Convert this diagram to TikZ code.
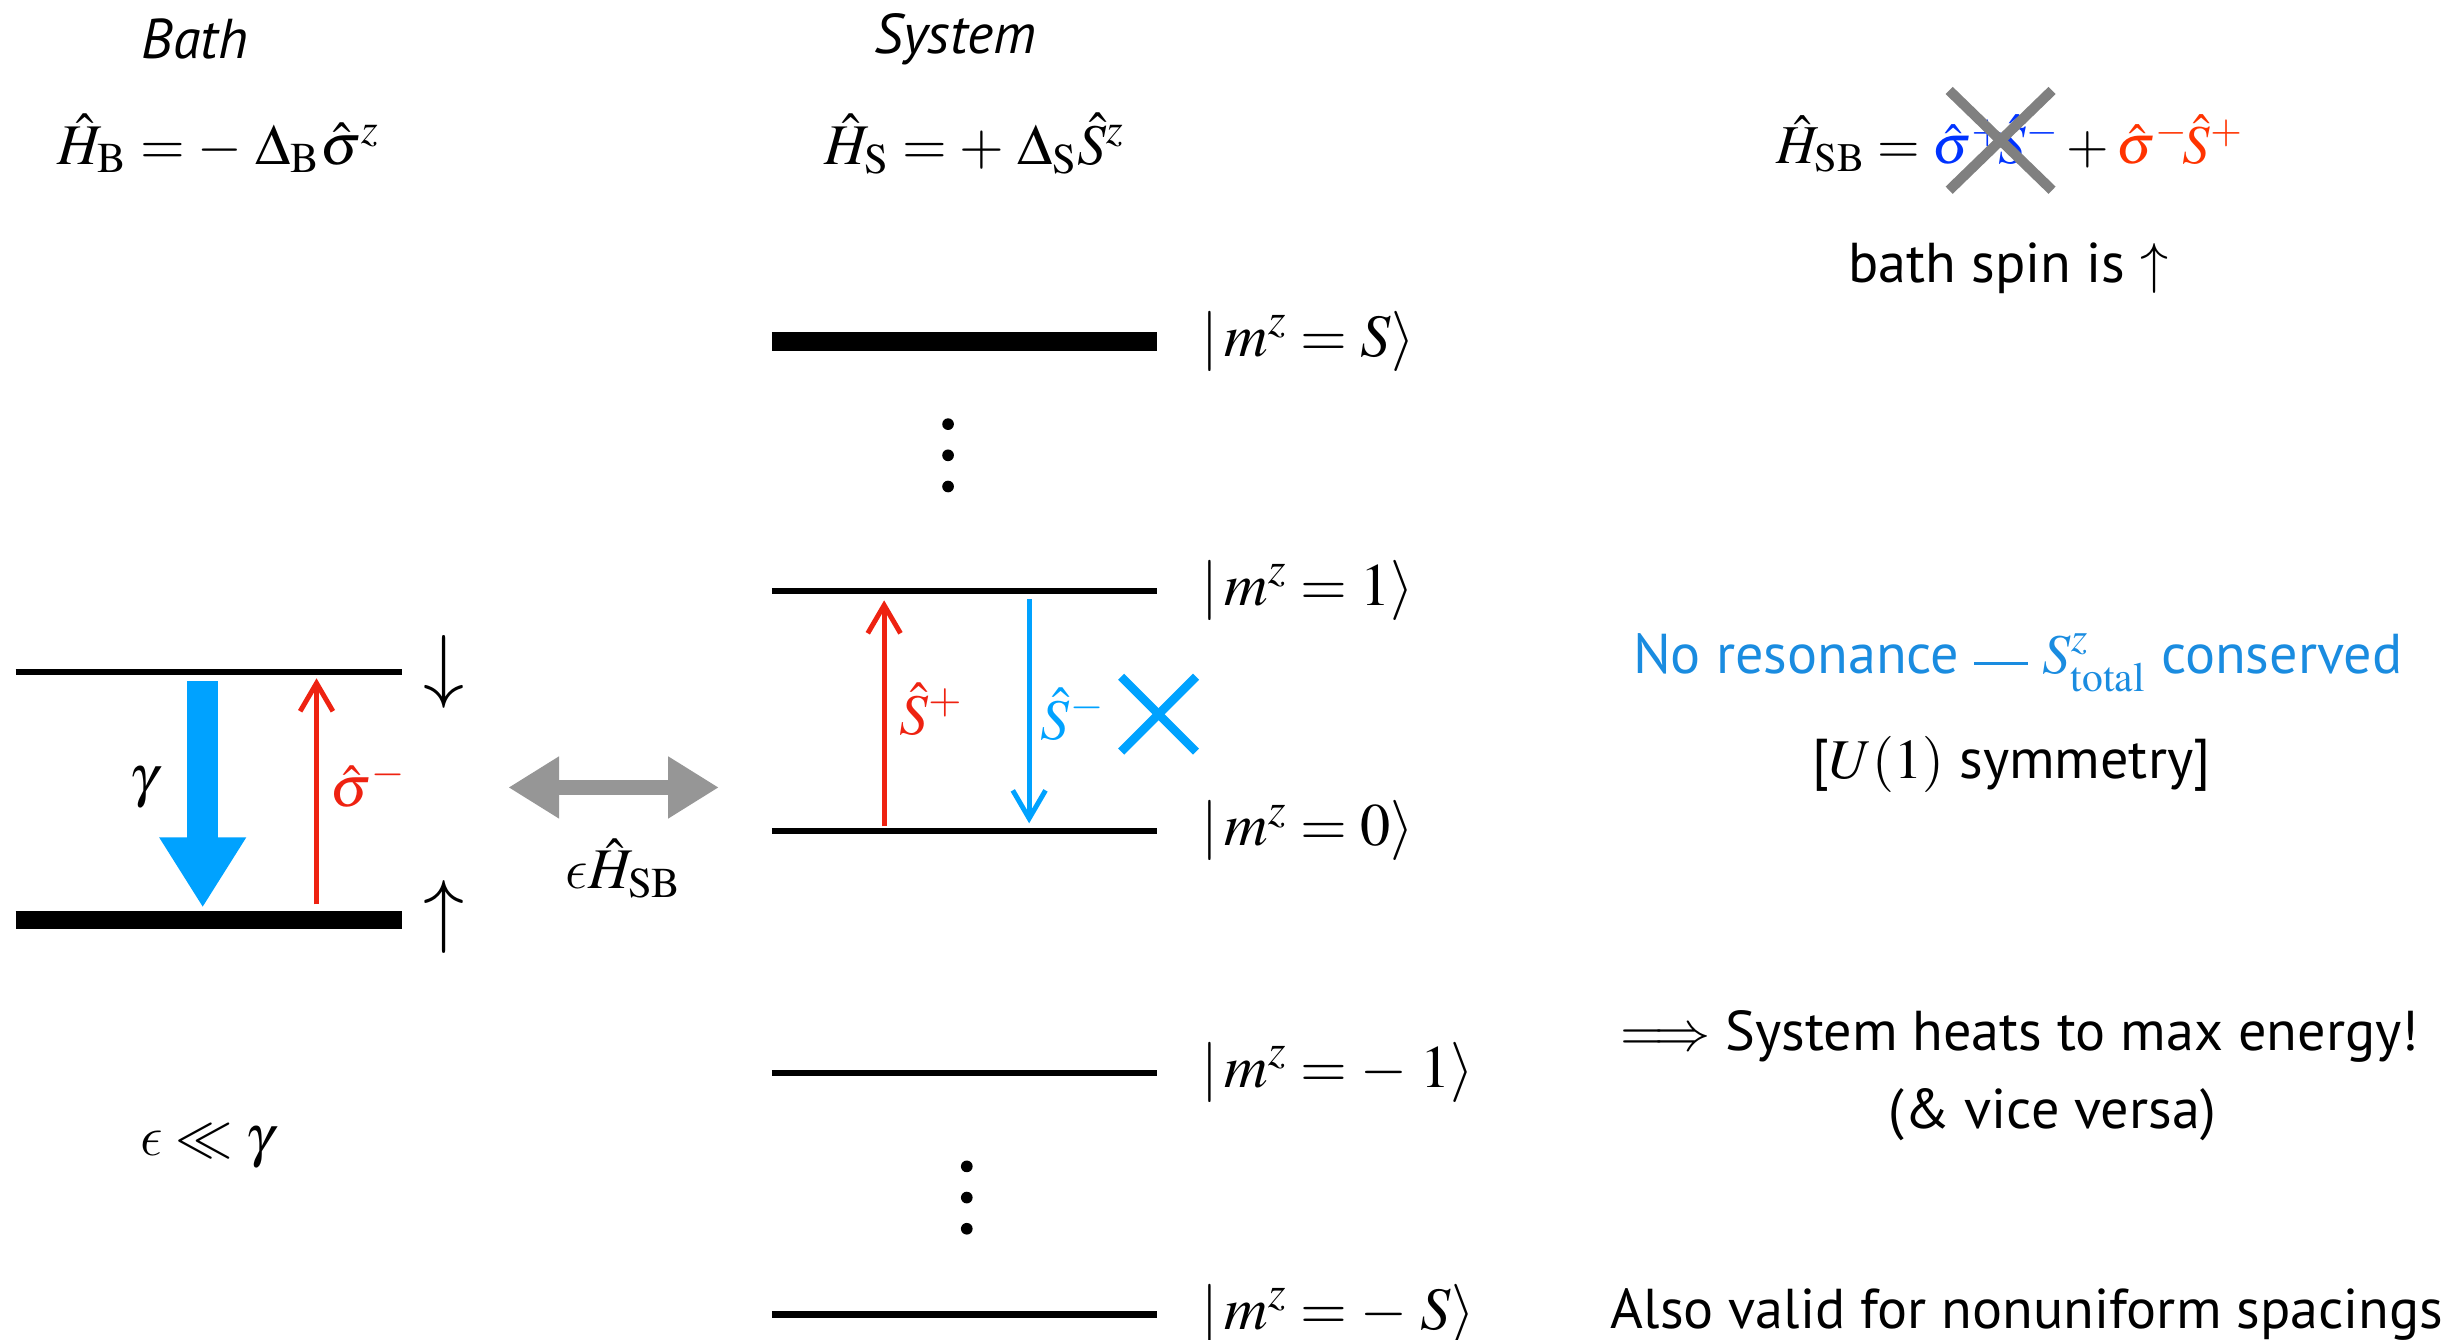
\documentclass[tikz,border=0pt]{standalone}
\usepackage{mathptmx}
\usepackage[no-math]{fontspec}
\setmainfont{PT Sans}
\usetikzlibrary{arrows.meta}

\DeclareSymbolFont{cmletters}{OML}{cmm}{m}{it}
\DeclareMathSymbol{\lunateps}{\mathord}{cmletters}{"0F}
\newcommand{\longdash}{\rule[0.3ex]{0.95em}{1.4pt}}

\definecolor{sred}{RGB}{238,34,17}
\definecolor{sblue}{RGB}{0,162,255}
\definecolor{tblue}{RGB}{26,140,224}
\definecolor{hblue}{RGB}{0,51,255}
\definecolor{hred}{RGB}{255,51,0}
\definecolor{cgrey}{RGB}{128,128,128}
\definecolor{agrey}{RGB}{150,150,150}

\begin{document}
\begin{tikzpicture}[
    x=0.02cm, y=-0.02cm,
    font=\fontsize{20.5}{24}\selectfont,
    level/.style={draw=black, line width=2.4pt},
    thicklevel/.style={draw=black, line width=6.8pt},
    ket/.style={anchor=west, inner sep=0pt, font=\fontsize{22}{26}\selectfont},
    eqn/.style={inner sep=0pt, font=\fontsize{21}{25}\selectfont},
    upflow/.style={draw=sred, line width=1.8pt, -{Straight Barb[length=0.36cm, width=0.42cm]}},
    downflow/.style={draw=sblue, line width=1.8pt, -{Straight Barb[length=0.36cm, width=0.42cm]}},
    decay/.style={draw=sblue, line width=0.4cm, -{Triangle[length=0.9cm, width=1.05cm]}},
    coupling/.style={draw=agrey, line width=0.2cm, {Triangle[length=0.65cm, width=0.75cm]}-{Triangle[length=0.65cm, width=0.75cm]}},
    cross/.style={line width=0.13cm},
    dot/.style={circle, fill=black, inner sep=0pt, minimum size=0.15cm}
]
\useasboundingbox (0,0) rectangle (1568,859);

% headers
\node (bath) at (125,25) {\textit{Bath}};
\node (sys) at (613,25) {\textit{System}};
\node[eqn] (hb) at (140,92) {$\hat H_{\mathrm{B}} = -\;\Delta_{\mathrm{B}}\hat\sigma^z$};
\node[eqn] (hs) at (625,92) {$\hat H_{\mathrm{S}} = +\;\Delta_{\mathrm{S}}\hat S^z$};
\node[eqn, font=\fontsize{20}{24}\selectfont] (hsb) at (1289,92) {$\hat H_{\mathrm{SB}} = \textcolor{hblue}{\hat\sigma^+\!\hat S^-} + \textcolor{hred}{\hat\sigma^-\!\hat S^+}$};
\draw[cross, cgrey] (1250,58) -- (1316,122);
\draw[cross, cgrey] (1316,58) -- (1250,122);
\node (spin) at (1288,172) {bath spin is $\uparrow$};

% bath levels
\coordinate (bup) at (10,431);
\coordinate (bdn) at (10,590);
\draw[level] (bup) -- ++(248,0);
\draw[thicklevel] (bdn) -- ++(248,0);
\node[eqn, font=\fontsize{30}{30}\selectfont] (dnspin) at (285,431) {$\downarrow$};
\node[eqn, font=\fontsize{30}{30}\selectfont] (upspin) at (285,588) {$\uparrow$};

\coordinate (g0) at (130,437);
\coordinate (g1) at (130,582);
\draw[decay] (g0) -- (g1);
\node[eqn] (gamma) at (92,505) {$\gamma$};
\coordinate (r0) at (203,580);
\coordinate (r1) at (203,435);
\draw[upflow] (r0) -- (r1);
\node[eqn, text=sred] (sigm) at (236,503) {$\hat\sigma^-$};

\coordinate (c0) at (326,505);
\coordinate (c1) at (461,505);
\draw[coupling] (c0) -- (c1);
\node[eqn] (eps) at (400,557) {$\lunateps\hat H_{\mathrm{SB}}$};
\node[eqn] (ll) at (133,735) {$\lunateps \ll \gamma$};

% system levels
\coordinate (lvS) at (495,219);
\coordinate (lv1) at (495,379);
\coordinate (lv0) at (495,533);
\coordinate (lvm) at (495,688);
\coordinate (lvmS) at (495,843);
\draw[thicklevel] (lvS) -- ++(247,0);
\foreach \lv in {lv1,lv0,lvm,lvmS}
  \draw[level] (\lv) -- ++(247,0);

\node[ket] (kS) at (770,219) {$|\,m^z = S\rangle$};
\node[ket] (k1) at (770,379) {$|\,m^z = 1\rangle$};
\node[ket] (k0) at (770,533) {$|\,m^z = 0\rangle$};
\node[ket] (km) at (770,688) {$|\,m^z = -\;1\rangle$};
\node[ket] (kmS) at (770,843) {$|\,m^z = -\;S\rangle$};

\foreach \y in {272,292,312}
  \node[dot] at (608,\y) {};
\foreach \y in {748,768,788}
  \node[dot] at (620,\y) {};

\coordinate (sp0) at (567,530);
\coordinate (sp1) at (567,385);
\draw[upflow] (sp0) -- (sp1);
\node[eqn, text=sred] (splus) at (597,455) {$\hat S^+$};
\coordinate (sm1) at (660,384);
\coordinate (sm0) at (660,528);
\draw[downflow] (sm1) -- (sm0);
\node[eqn, text=sblue] (sminus) at (688,458) {$\hat S^-$};
\draw[cross, sblue, line width=0.11cm] (719,434) -- (767,482);
\draw[cross, sblue, line width=0.11cm] (767,434) -- (719,482);

% remarks
\node[text=tblue] (nores) at (1294,425) {No resonance \longdash{} $S^z_{\mathrm{total}}$ conserved};
\node (sym) at (1290,490) {[$U(1)$ symmetry]};
\node (heats) at (1295,665) {$\Longrightarrow$ System heats to max energy!};
\node (vice) at (1316,715) {(\& vice versa)};
\node (valid) at (1300,843) {Also valid for nonuniform spacings};
\end{tikzpicture}
\end{document}
